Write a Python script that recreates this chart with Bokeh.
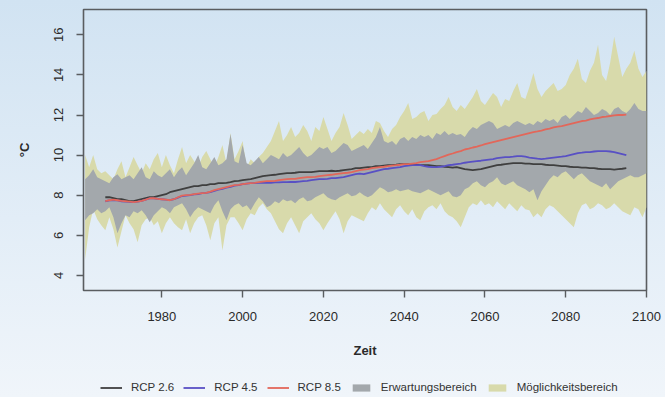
from bokeh.plotting import figure
from bokeh.models import Range1d, FixedTicker, Legend, LegendItem, ColumnDataSource
from bokeh.layouts import column
from bokeh.embed import file_html
from bokeh.resources import INLINE

# ---------------- data ----------------
band_years = list(range(1961, 2101))
line_years = list(range(1966, 2096))

# Möglichkeitsbereich (upper / lower)
poss_hi = [
    10.0, 9.4, 10.0, 9.3, 9.1, 9.2, 9.0, 8.8, 9.3, 9.7,
    8.9, 9.4, 9.9, 9.5, 9.1, 9.6, 9.3, 9.8, 10.1, 9.4,
    10.0, 9.5, 9.1, 9.8, 10.4, 9.6, 10.0, 9.7, 9.4, 9.9,
    10.2, 9.8, 9.4, 9.9, 10.5, 9.6, 11.1, 9.8, 10.2, 10.7,
    9.4, 9.8, 9.6, 9.9, 10.1, 10.4, 10.7, 11.2, 11.7, 10.7,
    11.0, 11.4, 10.9, 11.1, 11.5, 11.2, 10.7, 11.4, 11.2, 11.9,
    11.3, 10.7, 11.1, 11.4, 12.1, 11.5, 10.8, 11.0, 11.2, 11.05,
    11.3, 11.1, 11.7, 11.6, 11.2, 10.9, 11.3, 11.5, 11.9, 12.2,
    12.6, 11.8, 11.9, 12.1, 12.2, 11.7, 12.0, 12.05, 12.3, 12.5,
    12.9, 12.4, 12.2, 12.5, 12.3, 12.6, 12.9, 13.3, 12.7, 12.5,
    12.8, 13.1, 12.9, 12.4, 12.8, 12.7, 13.2, 13.6, 12.9, 12.8,
    13.4, 14.1, 13.3, 12.9, 13.2, 13.4, 13.6, 13.2, 13.3, 13.5,
    14.0, 14.3, 14.8, 13.8, 13.6, 14.2, 14.6, 15.5, 14.0, 13.7,
    14.6, 15.9, 14.9, 13.9, 14.3, 14.6, 15.2, 14.3, 13.9, 14.2,
]
poss_lo = [
    4.8, 6.4, 7.3, 6.8, 6.5, 6.25, 6.9, 6.3, 5.4, 6.2,
    7.0, 6.6, 6.3, 5.65, 6.5, 6.8, 6.9, 6.5, 6.7, 6.1,
    6.6, 6.9, 6.6, 6.4, 6.25, 6.8, 6.1, 6.6, 6.9, 7.0,
    6.5, 5.75, 6.6, 6.9, 5.25, 6.5, 6.9, 6.9, 6.6, 6.25,
    6.8, 7.1, 7.0, 7.4, 7.6, 7.3, 7.1, 6.7, 6.3, 6.1,
    6.6, 6.9, 6.5, 6.1, 6.7, 6.9, 7.1, 6.8, 6.6, 6.25,
    6.6, 6.9, 7.2, 6.8, 6.1, 6.7, 7.0, 6.9, 6.8, 6.7,
    7.1, 7.4, 7.25, 7.6, 7.3, 7.1, 6.9, 7.3, 7.5, 7.2,
    7.0, 7.3, 6.9, 6.75, 7.2, 7.4, 7.5, 7.3, 7.6, 7.2,
    7.0, 6.9, 6.7, 6.4, 6.9, 7.4, 7.6, 7.5, 7.75, 7.5,
    7.6, 7.4, 7.7, 7.5, 7.3, 7.6, 7.4, 7.2, 7.5, 7.3,
    7.25, 6.9, 7.1, 6.9, 7.3, 7.5, 7.4, 7.2, 7.0, 6.8,
    6.6, 6.4, 7.1, 7.5, 7.6, 7.3, 7.4, 7.6, 7.5, 7.3,
    7.4, 7.6, 7.4, 7.2, 7.1, 7.0, 7.4, 7.3, 6.9, 7.4,
]
# Erwartungsbereich (upper / lower)
exp_hi = [
    8.8, 9.0, 9.3, 8.9, 8.8, 8.7, 8.6, 8.9, 9.05, 8.8,
    8.9, 9.0, 8.8, 9.1, 9.4, 8.9, 8.8, 9.2, 9.0, 8.9,
    9.1, 9.3, 8.9, 9.2, 9.4, 9.0, 9.3, 9.6, 10.0, 9.4,
    9.3, 9.6, 9.9, 9.5, 9.6, 9.8, 11.05, 9.7, 9.6, 10.5,
    9.6, 9.5, 9.7, 9.9, 9.6, 9.8, 10.0, 9.9, 9.8, 10.1,
    9.9, 10.0, 10.2, 10.4, 10.1, 9.9, 10.0, 10.2, 10.4, 10.3,
    10.4, 10.1, 10.2, 10.4, 10.6, 10.5, 10.2, 10.3, 10.4, 10.5,
    10.3, 10.6, 10.9, 11.4, 10.7, 10.6, 10.7, 10.5, 10.8, 10.9,
    10.7, 10.9, 10.8, 11.0, 10.9, 11.0, 10.8, 11.1, 11.0, 11.2,
    11.0, 11.1, 11.0, 11.05, 10.9, 11.2, 11.4, 11.3, 11.5, 11.6,
    11.7, 11.6, 11.3, 11.4, 11.5, 11.4, 11.6, 11.7, 11.6, 11.5,
    11.6, 11.5, 11.7, 11.6, 11.8, 11.7, 11.8, 11.6, 11.9, 12.0,
    11.8, 12.0, 12.2, 12.1, 12.4, 12.2, 12.0, 12.1, 12.3, 12.2,
    12.0, 12.3, 12.4, 12.2, 12.1, 12.3, 12.6, 12.3, 12.2, 12.2,
]
exp_lo = [
    6.75, 7.0, 7.1, 7.3, 7.1, 7.2, 7.4, 6.9, 6.1, 6.6,
    7.0, 6.9, 7.2, 7.1, 7.25, 7.0, 6.65, 7.0, 7.2, 7.4,
    7.3, 7.1, 7.4, 7.5, 7.6, 7.3, 6.9, 7.2, 7.4, 7.3,
    7.2, 7.1, 7.5, 7.75, 7.2, 6.75, 7.3, 7.5, 7.6, 7.4,
    7.5, 7.25, 7.6, 7.9, 7.7, 7.4, 7.5, 7.7, 7.6, 7.8,
    7.7, 7.75, 7.6, 7.8, 7.9, 7.7, 7.75, 7.9, 8.0, 8.1,
    7.9, 7.8, 7.75, 7.9, 8.0, 8.1, 7.95, 8.0, 8.15, 8.0,
    7.9, 8.0, 8.2, 8.4, 8.3, 8.15, 8.2, 8.3, 8.2, 8.25,
    8.3, 8.2, 8.15, 8.1, 8.2, 8.3, 8.2, 8.1, 8.0, 8.1,
    8.2, 7.95, 7.9, 8.0, 8.3, 8.4, 8.6, 8.7, 8.5, 8.4,
    8.6, 8.7, 8.9, 8.6, 8.5, 8.6, 8.7, 8.5, 8.4, 8.3,
    8.15, 8.3, 7.75, 8.2, 8.5, 8.8, 9.0, 8.9, 9.1, 9.2,
    9.0, 8.8, 9.0, 9.1, 8.9, 8.7, 8.6, 8.5, 8.4, 8.6,
    8.3, 8.5, 8.7, 8.8, 8.9, 9.0, 8.9, 8.9, 9.0, 9.1,
]

rcp26 = [
    7.9, 7.9, 7.85, 7.8, 7.8, 7.75, 7.7, 7.7, 7.75, 7.8,
    7.85, 7.9, 7.9, 7.95, 8.0, 8.05, 8.15, 8.2, 8.25, 8.3,
    8.35, 8.4, 8.45, 8.45, 8.5, 8.5, 8.55, 8.55, 8.6, 8.6,
    8.62, 8.65, 8.7, 8.72, 8.75, 8.78, 8.8, 8.85, 8.9, 8.95,
    8.98, 9.0, 9.02, 9.05, 9.08, 9.1, 9.1, 9.12, 9.15, 9.15,
    9.15, 9.15, 9.18, 9.2, 9.2, 9.2, 9.22, 9.2, 9.22, 9.25,
    9.28, 9.3, 9.35, 9.35, 9.38, 9.4, 9.4, 9.45, 9.45, 9.48,
    9.5, 9.5, 9.52, 9.55, 9.55, 9.55, 9.55, 9.52, 9.5, 9.5,
    9.5, 9.48, 9.45, 9.45, 9.42, 9.4, 9.38, 9.4, 9.35, 9.3,
    9.28, 9.25, 9.28, 9.3, 9.35, 9.4, 9.45, 9.5, 9.52, 9.55,
    9.58, 9.6, 9.6, 9.6, 9.58, 9.58, 9.55, 9.55, 9.55, 9.52,
    9.5, 9.5, 9.48, 9.45, 9.45, 9.42, 9.4, 9.4, 9.38, 9.38,
    9.35, 9.35, 9.32, 9.3, 9.3, 9.3, 9.28, 9.3, 9.32, 9.35,
]
rcp45 = [
    7.7, 7.74, 7.76, 7.74, 7.7, 7.68, 7.67, 7.66, 7.68, 7.72,
    7.78, 7.84, 7.84, 7.82, 7.8, 7.78, 7.76, 7.8, 7.88, 7.96,
    7.98, 8.0, 8.04, 8.06, 8.1, 8.12, 8.16, 8.22, 8.28, 8.32,
    8.38, 8.42, 8.48, 8.5, 8.55, 8.58, 8.6, 8.6, 8.62, 8.62,
    8.62, 8.62, 8.64, 8.64, 8.65, 8.65, 8.66, 8.66, 8.68, 8.7,
    8.72, 8.75, 8.78, 8.8, 8.8, 8.82, 8.85, 8.85, 8.88, 8.9,
    8.95, 9.0, 9.05, 9.08, 9.05, 9.1, 9.15, 9.2, 9.25, 9.3,
    9.32, 9.35, 9.38, 9.4, 9.45, 9.48, 9.5, 9.5, 9.5, 9.45,
    9.42, 9.4, 9.4, 9.42, 9.45, 9.5, 9.52, 9.55, 9.58, 9.62,
    9.65, 9.68, 9.7, 9.72, 9.75, 9.78, 9.8, 9.85, 9.88, 9.9,
    9.9, 9.92, 9.95, 9.95, 9.92, 9.88, 9.85, 9.82, 9.8, 9.82,
    9.85, 9.88, 9.9, 9.92, 9.95, 10.0, 10.05, 10.1, 10.12, 10.15,
    10.15, 10.18, 10.2, 10.2, 10.2, 10.18, 10.15, 10.1, 10.05, 10.0,
]
rcp85 = [
    7.7, 7.75, 7.78, 7.75, 7.72, 7.7, 7.68, 7.66, 7.68, 7.72,
    7.78, 7.85, 7.85, 7.82, 7.8, 7.78, 7.75, 7.8, 7.9, 7.98,
    8.0, 8.02, 8.05, 8.08, 8.1, 8.12, 8.18, 8.25, 8.3, 8.35,
    8.4, 8.45, 8.5, 8.52, 8.55, 8.58, 8.6, 8.62, 8.65, 8.68,
    8.7, 8.7, 8.72, 8.75, 8.78, 8.8, 8.82, 8.82, 8.85, 8.88,
    8.9, 8.9, 8.92, 8.95, 8.98, 9.0, 9.02, 9.05, 9.08, 9.1,
    9.12, 9.15, 9.2, 9.25, 9.28, 9.3, 9.35, 9.38, 9.4, 9.42,
    9.45, 9.48, 9.5, 9.52, 9.55, 9.55, 9.58, 9.6, 9.65, 9.68,
    9.7, 9.75, 9.8, 9.88, 9.95, 10.02, 10.08, 10.15, 10.2, 10.28,
    10.32, 10.38, 10.42, 10.48, 10.55, 10.6, 10.65, 10.7, 10.75, 10.8,
    10.85, 10.9, 10.95, 11.0, 11.05, 11.1, 11.15, 11.18, 11.22, 11.28,
    11.32, 11.38, 11.42, 11.45, 11.5, 11.55, 11.6, 11.65, 11.7, 11.72,
    11.78, 11.82, 11.85, 11.9, 11.92, 11.95, 11.98, 12.0, 12.0, 12.02,
]

x_ticks = [1980, 2000, 2020, 2040, 2060, 2080, 2100]
y_ticks = [4, 6, 8, 10, 12, 14, 16]
labels = ["RCP 2.6", "RCP 4.5", "RCP 8.5", "Erwartungsbereich", "Möglichkeitsbereich"]

# ---------------- styling ----------------
FONT = "Liberation Sans"
C_POSS, C_EXP = "#d8daab", "#a3a8ac"
C26, C45, C85 = "#3f3f3f", "#5850c4", "#e2675a"

band_src = ColumnDataSource(dict(x=band_years, phi=poss_hi, plo=poss_lo, ehi=exp_hi, elo=exp_lo))
line_src = ColumnDataSource(dict(x=line_years, a=rcp26, b=rcp45, c=rcp85))


def draw(fig):
    rp = fig.varea(x="x", y1="plo", y2="phi", source=band_src, fill_color=C_POSS)
    re = fig.varea(x="x", y1="elo", y2="ehi", source=band_src, fill_color=C_EXP)
    ra = fig.line(x="x", y="a", source=line_src, line_color=C26, line_width=1.8)
    rb = fig.line(x="x", y="b", source=line_src, line_color=C45, line_width=1.8)
    rc = fig.line(x="x", y="c", source=line_src, line_color=C85, line_width=1.8)
    return ra, rb, rc, re, rp


# ---------------- main chart ----------------
p = figure(width=665, height=377, output_backend="svg", toolbar_location=None,
           x_range=Range1d(1960.6, 2100), y_range=Range1d(3.25, 17.26),
           min_border_left=83, min_border_right=19, min_border_top=9,
           min_border_bottom=87)
p.background_fill_color = None
p.border_fill_color = None
p.outline_line_color = "#5a5d60"
p.outline_line_width = 1.6
p.grid.visible = False
draw(p)

for ax in (p.xaxis[0], p.yaxis[0]):
    ax.axis_line_color = None
    ax.major_tick_line_color = "#5a5d60"
    ax.major_tick_line_width = 1.4
    ax.major_tick_in = 0
    ax.major_tick_out = 7
    ax.minor_tick_line_color = None
    ax.major_label_text_font = FONT
    ax.major_label_text_font_size = "13px"
    ax.major_label_text_color = "#2a2a2a"
    ax.axis_label_text_font = FONT
    ax.axis_label_text_font_size = "13px"
    ax.axis_label_text_font_style = "bold"
    ax.axis_label_text_color = "#2a2a2a"

p.xaxis.ticker = FixedTicker(ticks=x_ticks)
p.yaxis.ticker = FixedTicker(ticks=y_ticks)
p.xaxis.axis_label = "Zeit"
p.yaxis.axis_label = "°C"
p.xaxis.major_label_standoff = 14
p.xaxis.axis_label_standoff = 19
p.yaxis.major_label_orientation = "vertical"
p.yaxis.major_label_standoff = 13
p.yaxis.axis_label_standoff = 20

# ---------------- legend strip ----------------
# (the column aligns the frames of both figures, so use the same left/right borders)
lp = figure(width=665, height=20, output_backend="svg", toolbar_location=None,
            x_range=Range1d(0, 1), y_range=Range1d(0, 1),
            x_axis_type=None, y_axis_type=None,
            min_border_left=83, min_border_right=19, min_border_top=0, min_border_bottom=0)
lp.background_fill_color = None
lp.border_fill_color = None
lp.outline_line_color = None
lp.grid.visible = False
ra, rb, rc, re, rp = draw(lp)   # drawn outside the strip's view; only feed the legend

legend = Legend(items=[LegendItem(label=labels[0], renderers=[ra]),
                       LegendItem(label=labels[1], renderers=[rb]),
                       LegendItem(label=labels[2], renderers=[rc]),
                       LegendItem(label=labels[3], renderers=[re]),
                       LegendItem(label=labels[4], renderers=[rp])],
                orientation="horizontal", location=(17, 3),
                border_line_color=None, background_fill_alpha=0,
                label_text_font=FONT, label_text_font_size="11.5px",
                label_text_color="#333333",
                glyph_width=22, glyph_height=9, label_standoff=9, spacing=9,
                padding=0, margin=0, label_height=14)
lp.add_layout(legend, "center")

layout = column(p, lp, spacing=0,
                styles={"background-image": "linear-gradient(to bottom, #d1e3f2 0%, #e2edf7 55%, #f0f5fa 100%)"})

open("out.html", "w").write(file_html(layout, INLINE))
